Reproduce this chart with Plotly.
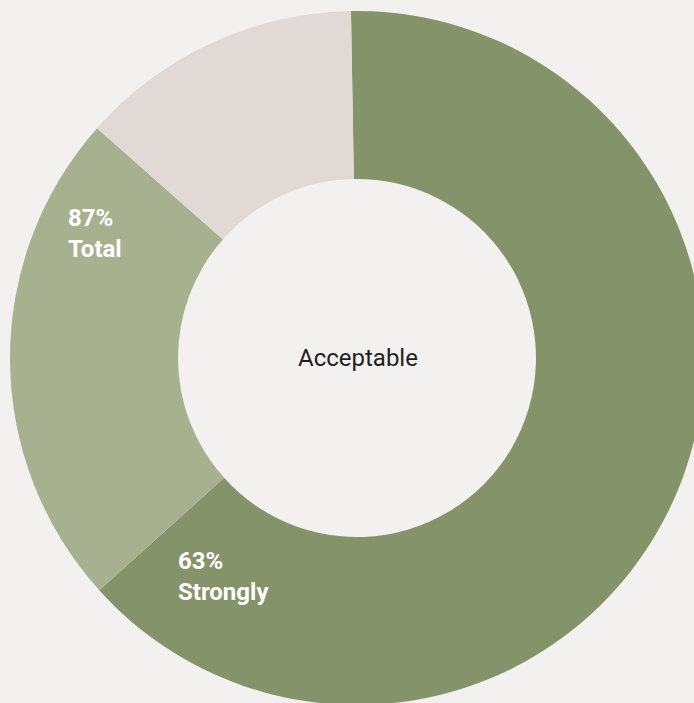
import plotly.graph_objects as go

categories = ["Strongly", "Somewhat", "Not"]
values = [63.6, 23.2, 13.2]
colors = ["#84936A", "#A8B18F", "#E0D9D6"]
pct_labels = ["63%", "87%"]
name_labels = ["Strongly", "Total"]
center_text = "Acceptable"

# window size and figure size (figure a bit larger; page clips to window)
WIN_W, WIN_H = 694, 703
W, H = 720, 720
cx, cy, R = 357, 358, 347

fig = go.Figure(go.Pie(
    labels=categories,
    values=values,
    marker=dict(colors=colors, line=dict(width=0)),
    hole=179 / 347,
    sort=False,
    direction="clockwise",
    rotation=-1,
    textinfo="none",
    hoverinfo="none",
    showlegend=False,
    domain=dict(x=[(cx - R) / W, (cx + R) / W], y=[1 - (cy + R) / H, 1 - (cy - R) / H]),
))

font_lbl = dict(family="Roboto, Arial", size=24, color="white")
ann_pos = [(176, 576), (66, 234)]
for p, n, (x, y) in zip(pct_labels, name_labels, ann_pos):
    fig.add_annotation(x=x / W, y=1 - y / H, xref="paper", yref="paper",
                       text="<b>" + p + "<br>" + n + "</b>",
                       showarrow=False, xanchor="left", yanchor="middle", align="left", font=font_lbl)

fig.add_annotation(x=357.5 / W, y=1 - 358 / H, xref="paper", yref="paper", text=center_text,
                   showarrow=False, font=dict(family="Roboto, Arial", size=24, color="#231F20"))

fig.update_layout(width=W, height=H, margin=dict(l=0, r=0, t=0, b=0),
                  paper_bgcolor="#F2F1EF", plot_bgcolor="#F2F1EF")
fig.write_html("out.html", post_script="document.documentElement.style.overflow='hidden';document.body.style.overflow='hidden';document.body.style.margin='0';")
